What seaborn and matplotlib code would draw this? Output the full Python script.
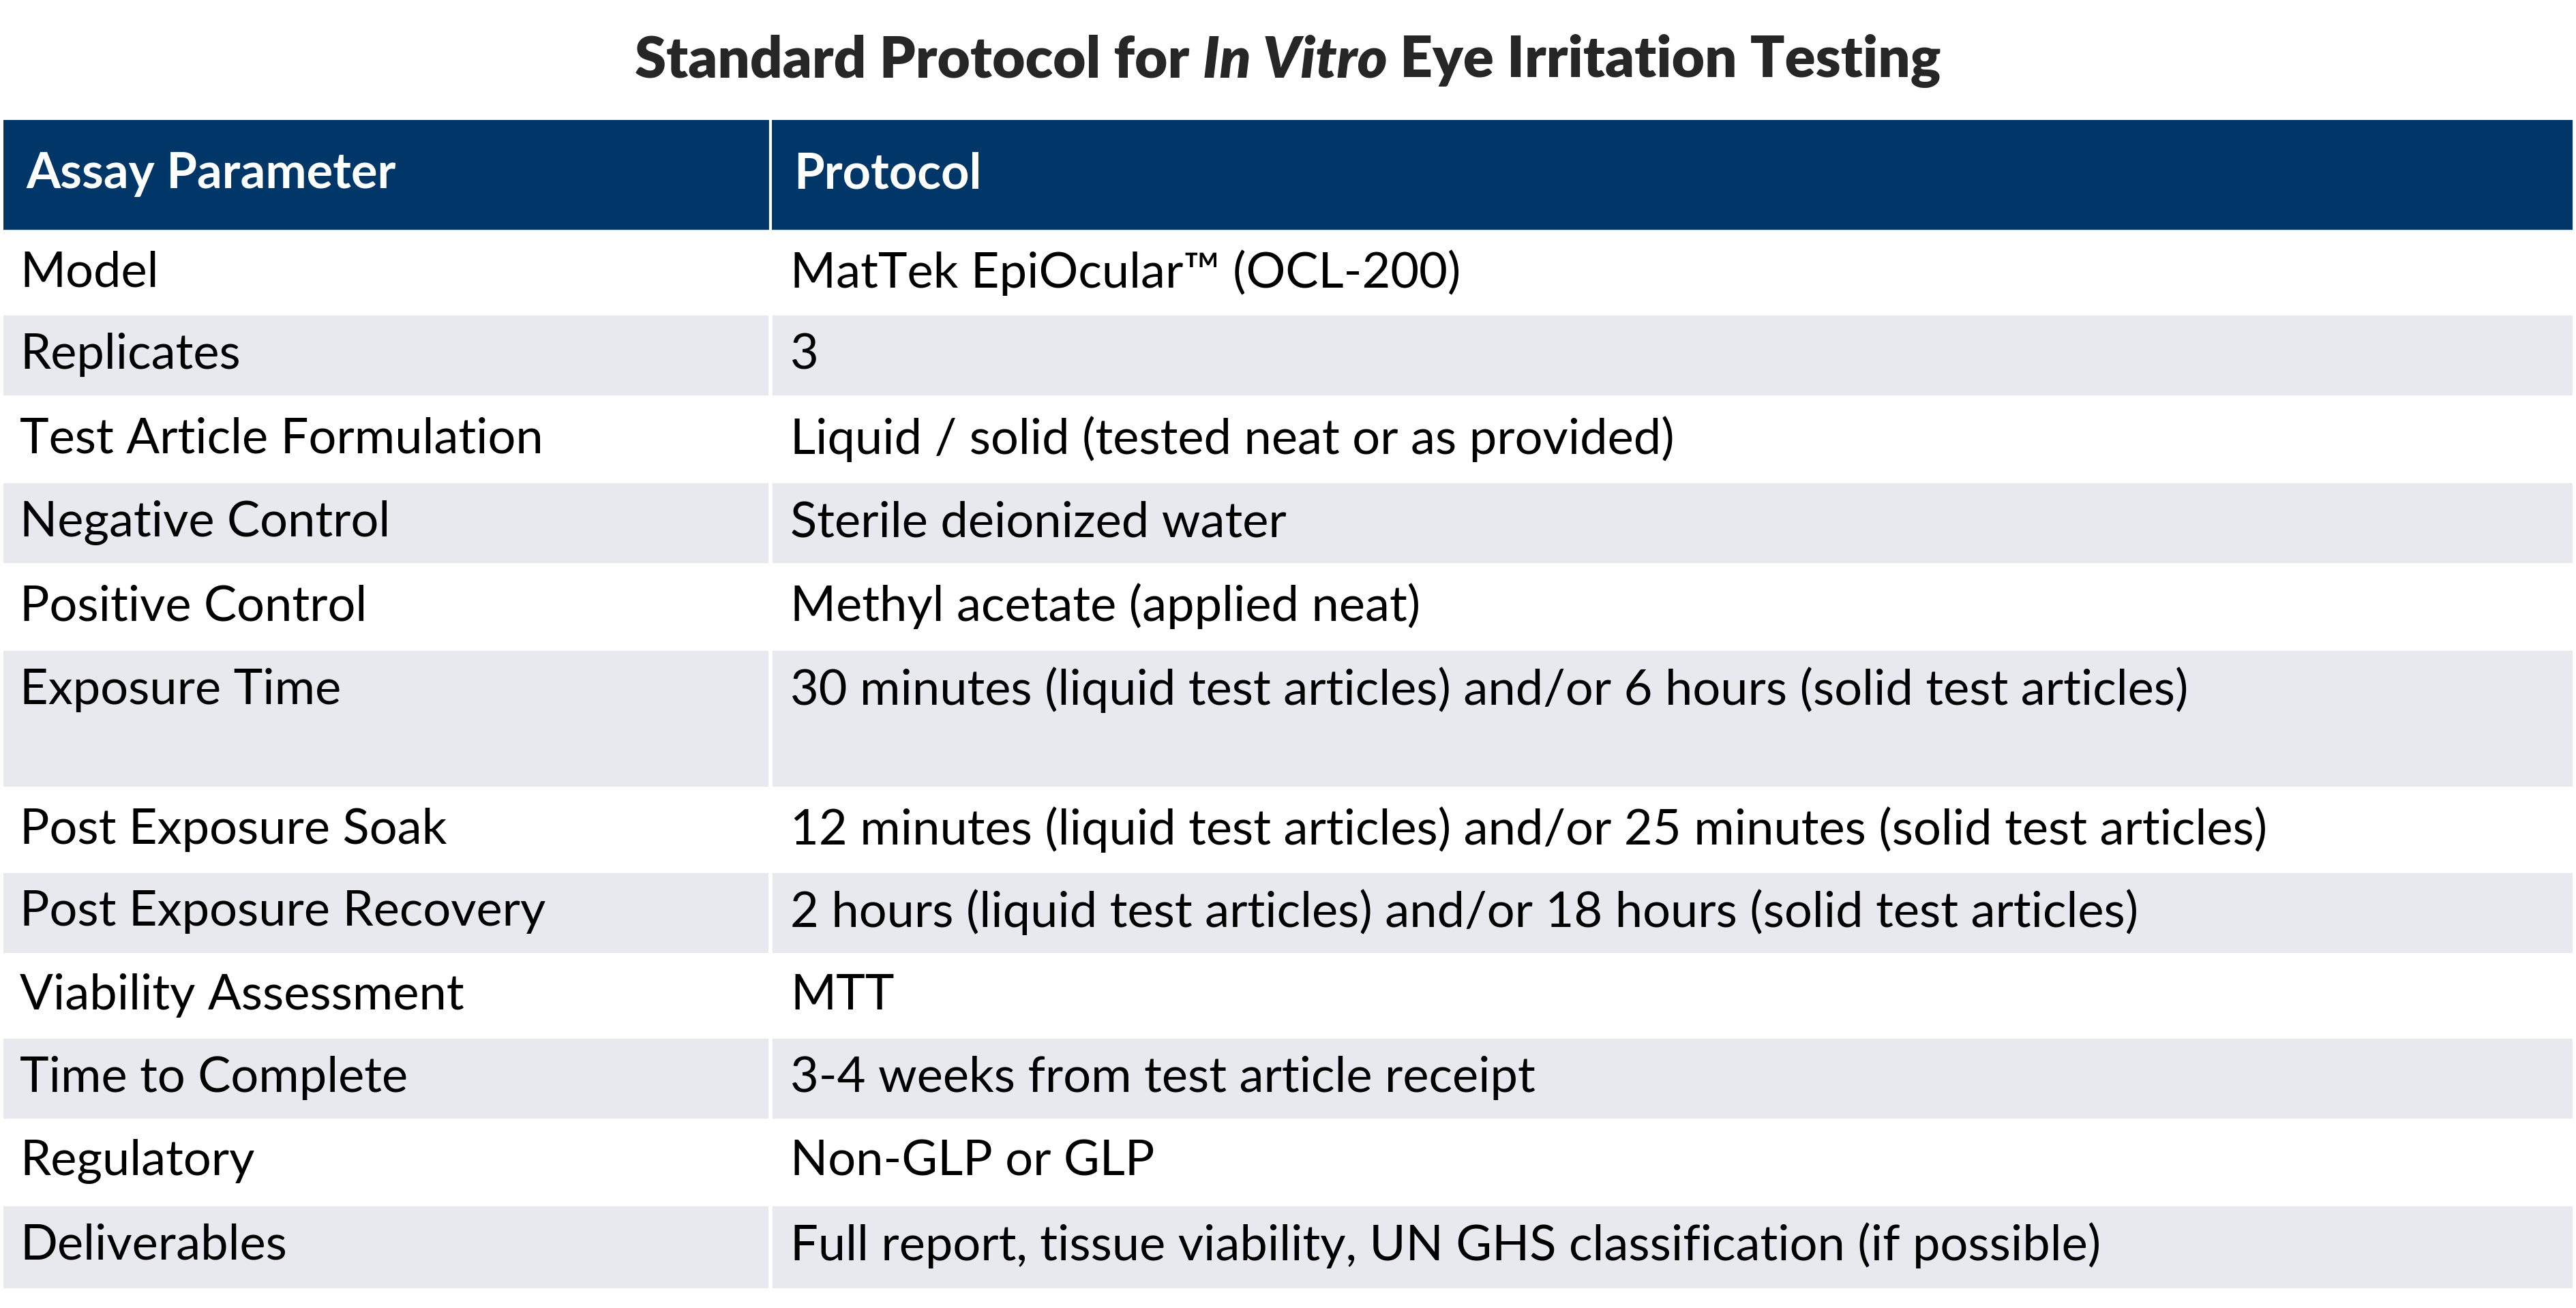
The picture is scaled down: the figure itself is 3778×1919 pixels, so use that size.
import matplotlib.pyplot as plt
import matplotlib.patches as patches
import seaborn as sns

sns.set_style("white")
plt.rcParams['font.family'] = ['Lato', 'DejaVu Sans']

headers = ["Assay Parameter", "Protocol"]
params = ["Model", "Replicates", "Test Article Formulation", "Negative Control",
          "Positive Control", "Exposure Time", "Post Exposure Soak",
          "Post Exposure Recovery", "Viability Assessment", "Time to Complete",
          "Regulatory", "Deliverables"]
protocols = ["MatTek EpiOcular™ (OCL-200)", "3",
             "Liquid / solid (tested neat or as provided)",
             "Sterile deionized water", "Methyl acetate (applied neat)",
             "30 minutes (liquid test articles) and/or 6 hours (solid test articles)",
             "12 minutes (liquid test articles) and/or 25 minutes (solid test articles)",
             "2 hours (liquid test articles) and/or 18 hours (solid test articles)",
             "MTT", "3-4 weeks from test article receipt", "Non-GLP or GLP",
             "Full report, tissue viability, UN GHS classification (if possible)"]
row_heights = [50, 51, 51, 51, 51, 85, 50, 51, 50, 51, 51, 51]

fig = plt.figure(figsize=(37.78, 19.19), dpi=100)
ax = fig.add_axes([0, 0, 1, 1])
ax.set_xlim(0, 1568)
ax.set_ylim(796, 0)
ax.axis("off")

left, split, right = 2, 469, 1566
blue = "#003668"
gray = "#E8E9EE"
fs = 52
tfs = 60

# title assembled in three parts for the italic segment
t1 = ax.text(0, 37, "Standard Protocol for ", fontsize=tfs, fontweight="heavy", va="center")
t2 = ax.text(0, 37, "In Vitro", fontsize=tfs, fontweight="heavy", style="italic", va="center")
t3 = ax.text(0, 37, " Eye Irritation Testing", fontsize=tfs, fontweight="heavy", va="center")
fig.canvas.draw()
r = fig.canvas.get_renderer()
inv = ax.transData.inverted()
widths = []
for t in (t1, t2, t3):
    bb = t.get_window_extent(r)
    widths.append(inv.transform((bb.x1, 0))[0] - inv.transform((bb.x0, 0))[0])
x = 784 - sum(widths) / 2
for t, w in zip((t1, t2, t3), widths):
    t.set_x(x)
    x += w

ax.add_patch(patches.Rectangle((left, 73), right - left, 68, color=blue, lw=0))
ax.plot([split, split], [73, 141], color="white", lw=3)
ax.text(left + 14, 106, headers[0], fontsize=fs, fontweight="bold", color="white", va="center")
ax.text(split + 14, 106, headers[1], fontsize=fs, fontweight="bold", color="white", va="center")

y = 141
for i, (p, q, h) in enumerate(zip(params, protocols, row_heights)):
    c = "white" if i % 2 == 0 else gray
    ax.add_patch(patches.Rectangle((left, y), right - left, h, color=c, lw=0))
    ty = y + 25
    ax.text(left + 10, ty, p, fontsize=fs, color="black", va="center")
    ax.text(split + 12, ty, q, fontsize=fs, color="black", va="center")
    ax.plot([left, right], [y, y], color="white", lw=4)
    y += h
ax.plot([split, split], [141, y], color="white", lw=4)

fig.savefig("out.png", dpi=100)
